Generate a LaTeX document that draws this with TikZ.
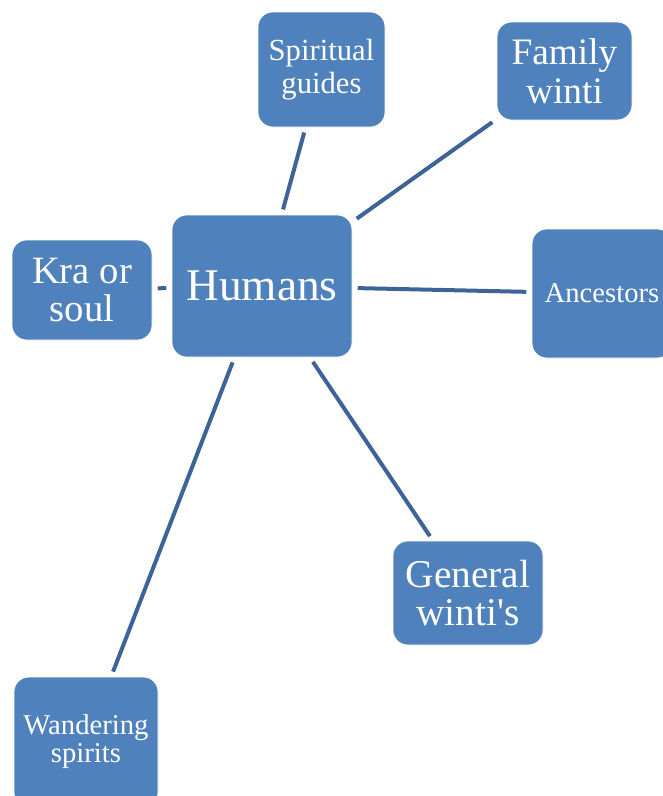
\documentclass[tikz,border=0pt]{standalone}
\usepackage{fontspec}
\setmainfont{Liberation Serif}
\usepackage{xcolor}
\definecolor{boxblue}{HTML}{4F81BD}
\definecolor{linkblue}{HTML}{3C6496}

\begin{document}
\begin{tikzpicture}[x=0.75pt, y=-0.75pt,
    spirit/.style={rectangle, rounded corners=11pt, fill=boxblue, draw=white, line width=0.6pt,
        text=white, align=center, inner sep=0pt},
    link/.style={linkblue, line width=3pt, shorten <=4pt, shorten >=4pt}]

\useasboundingbox (0,0) rectangle (662,796);

% Humans at center
\node[spirit, minimum width=135pt, minimum height=106.5pt, font=\fontsize{34}{38}\selectfont] (humans) at (262,286) {Humans};

% Surrounding spirits
\node[spirit, minimum width=95.25pt, minimum height=86.25pt, font=\fontsize{23}{25}\selectfont] (guides) at (321.5,69.5) {Spiritual\\guides};
\node[spirit, minimum width=101.25pt, minimum height=73.5pt, font=\fontsize{28}{29}\selectfont] (family) at (564.5,71) {Family\\winti};
\node[spirit, minimum width=105pt, minimum height=75pt, font=\fontsize{29}{29}\selectfont] (kra) at (82,290) {Kra or\\soul};
\node[spirit, minimum width=105pt, minimum height=96.75pt, font=\fontsize{21.5}{24}\selectfont] (ancestors) at (602,293.5) {Ancestors};
\node[spirit, minimum width=112.5pt, minimum height=78pt, font=\fontsize{29.5}{28.5}\selectfont] (general) at (468,593) {General\\winti\textquotesingle s};
\node[spirit, minimum width=108pt, minimum height=97.5pt, font=\fontsize{21.5}{21}\selectfont] (wandering) at (86,742) {Wandering\\spirits};

% Connections
\foreach \other in {guides, family, kra, ancestors, general, wandering} {
    \draw[link] (humans) -- (\other);
}

\end{tikzpicture}
\end{document}
